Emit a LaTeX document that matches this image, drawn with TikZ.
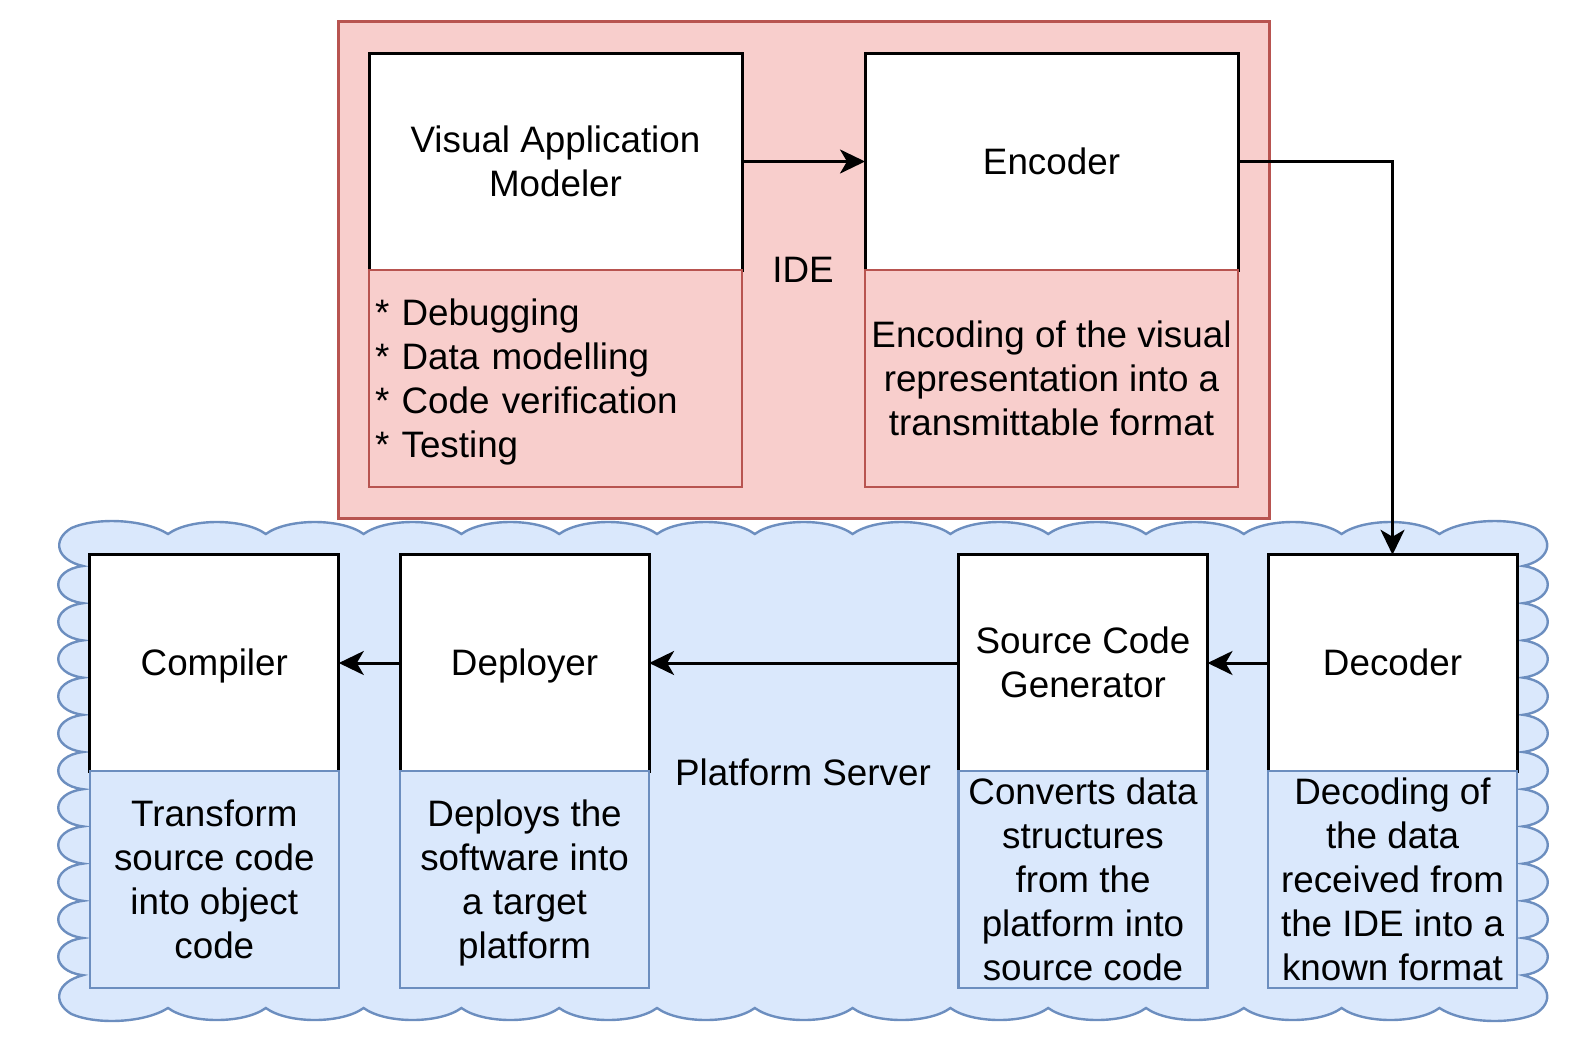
\documentclass[tikz,border=0pt]{standalone}
\usepackage{fontspec}
\setmainfont{Liberation Sans}
\usetikzlibrary{arrows.meta}
\definecolor{redfill}{HTML}{F8CECC}
\definecolor{redline}{HTML}{B85450}
\definecolor{bluefill}{HTML}{DAE8FC}
\definecolor{blueline}{HTML}{6C8EBF}
\newcommand{\vs}{\rule[-3.8pt]{0pt}{20.3pt}}
\begin{document}
\begin{tikzpicture}[x=0.5pt,y=-0.5pt,
  font=\fontsize{18.4}{22}\selectfont,
  box/.style={outer sep=0pt, inner xsep=3pt, inner ysep=0pt, align=center},
  widebox/.style={box, minimum width=186.5pt, minimum height=108.5pt},
  narrowbox/.style={box, minimum width=124.5pt, minimum height=108.25pt},
  whitebox/.style={draw=black, fill=white, line width=1.5pt},
  redbox/.style={draw=redline, fill=redfill, line width=1.3pt},
  bluebox/.style={draw=blueline, fill=bluefill, line width=1.2pt},
  container/.style={draw=redline, fill=redfill, line width=1.5pt, outer sep=0pt, inner sep=0pt},
  arr/.style={line width=1.5pt, -{Stealth[length=12.5pt,width=12pt,inset=3.5pt]}},
]
\useasboundingbox (0,0) rectangle (1583,1055);

% IDE container
\node[container, minimum width=465.5pt, minimum height=248.5pt] (ide) at (803.5,269.5) {};
\node[inner sep=0pt] (idelabel) at (803,270) {\vs IDE};

% Platform server cloud
\draw[draw=blueline, fill=bluefill, line width=1.2pt]
  (168,534)
  \foreach \i in {0,...,12}{
    .. controls ({168+97.8*\i+22},518) and ({168+97.8*(\i+1)-22},518) .. ({168+97.8*(\i+1)},534)
  }
  .. controls (1462,519) and (1510,517) .. (1535,528)
  .. controls (1555,540) and (1550,560) .. (1523,566)
  \foreach \j in {0,...,10}{
    .. controls (1556,{566+37.2*\j+4}) and (1556,{566+37.2*(\j+1)-4}) .. (1523,{566+37.2*(\j+1)})
  }
  .. controls (1550,982) and (1555,1002) .. (1535,1014)
  .. controls (1510,1025) and (1462,1023) .. (1439.4,1008)
  \foreach \i in {12,11,...,0}{
    .. controls ({168+97.8*(\i+1)-22},1024) and ({168+97.8*\i+22},1024) .. ({168+97.8*\i},1008)
  }
  .. controls (144.4,1023) and (96.4,1025) .. (71.4,1014)
  .. controls (51.4,1002) and (56.4,982) .. (83,975.2)
  \foreach \j in {10,9,...,0}{
    .. controls (50,{566+37.2*(\j+1)-4}) and (50,{566+37.2*\j+4}) .. (83,{566+37.2*\j})
  }
  .. controls (56.4,560) and (51.4,540) .. (71.4,528)
  .. controls (96.4,517) and (144.4,519) .. (168,534) -- cycle;
\node[inner sep=0pt] (pslabel) at (803,773) {\vs Platform Server};

% IDE boxes
\node[widebox, whitebox] (vam) at (555.5,161.5) {\vs Visual Application\\Modeler\vs};
\node[widebox, redbox, text width=180.5pt, align=left] (vamd) at (555.5,378.5) {\vs{*} Debugging\\{*} Data modelling\\{*} Code verification\\{*} Testing\vs};
\node[widebox, whitebox] (enc) at (1051.5,161.5) {\vs Encoder};
\node[widebox, redbox] (encd) at (1051.5,378.5) {\vs Encoding of the visual\\representation into a\\transmittable format\vs};

% Platform boxes
\node[narrowbox, whitebox] (comp) at (214.3,663) {\vs Compiler};
\node[narrowbox, bluebox] (compd) at (214.3,879.5) {\vs Transform\\source code\\into object\\code\vs};
\node[narrowbox, whitebox] (dep) at (524.6,663) {\vs Deployer};
\node[narrowbox, bluebox] (depd) at (524.6,879.5) {\vs Deploys the\\software into\\a target\\platform\vs};
\node[narrowbox, whitebox] (scg) at (1083,663) {\vs Source Code\\Generator\vs};
\node[narrowbox, bluebox] (scgd) at (1083,879.5) {\vs Converts data\\structures\\from the\\platform into\\source code\vs};
\node[narrowbox, whitebox] (dec) at (1392.5,663) {\vs Decoder};
\node[narrowbox, bluebox] (decd) at (1392.5,879.5) {\vs Decoding of\\the data\\received from\\the IDE into a\\known format\vs};

% connectors
\draw[arr] (vam.east) -- (enc.west);
\draw[arr] (enc.east) -| (dec.north);
\draw[arr] (dec.west) -- (scg.east);
\draw[arr] (scg.west) -- (dep.east);
\draw[arr] (dep.west) -- (comp.east);
\end{tikzpicture}
\end{document}
